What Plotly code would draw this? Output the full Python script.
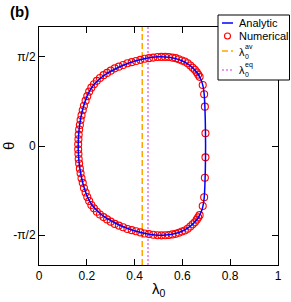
import plotly.graph_objects as go

# ---------------- data ----------------
analytic_lambda = [0.697, 0.696, 0.694, 0.691, 0.686, 0.678, 0.665, 0.648, 0.625, 0.600,
                   0.570, 0.530, 0.485, 0.440, 0.395, 0.355, 0.315, 0.280, 0.250, 0.225,
                   0.205, 0.190, 0.180, 0.173, 0.168, 0.165, 0.164,
                   0.165, 0.168, 0.173, 0.180, 0.190, 0.205, 0.225, 0.250, 0.280,
                   0.315, 0.355, 0.395, 0.440, 0.485, 0.530, 0.570, 0.600, 0.625,
                   0.648, 0.665, 0.678, 0.686, 0.691, 0.694, 0.696, 0.697]
analytic_theta = [0.00, 0.40, 0.70, 0.92, 1.06, 1.17, 1.27, 1.36, 1.44, 1.50,
                  1.545, 1.572, 1.572, 1.54, 1.49, 1.43, 1.35, 1.27, 1.17, 1.06,
                  0.92, 0.75, 0.60, 0.45, 0.30, 0.15, 0.00,
                  -0.15, -0.30, -0.45, -0.60, -0.75, -0.92, -1.06, -1.17, -1.27,
                  -1.35, -1.43, -1.49, -1.54, -1.572, -1.572, -1.545, -1.50, -1.44,
                  -1.36, -1.27, -1.17, -1.06, -0.92, -0.70, -0.40, 0.00]

numerical_lambda = [0.164, 0.165, 0.166, 0.168, 0.171, 0.174, 0.178, 0.183, 0.188, 0.195,
                    0.202, 0.210, 0.219, 0.230, 0.242, 0.255, 0.270, 0.285, 0.300, 0.317,
                    0.334, 0.352, 0.370, 0.388, 0.406, 0.424, 0.442, 0.460, 0.478, 0.496,
                    0.512, 0.528, 0.543, 0.558, 0.572, 0.585, 0.598, 0.610, 0.622, 0.633,
                    0.643, 0.652, 0.660, 0.666, 0.672, 0.685, 0.691, 0.694, 0.6965,
                    0.164, 0.165, 0.166, 0.168, 0.171, 0.174, 0.178, 0.183, 0.188, 0.195,
                    0.202, 0.210, 0.219, 0.230, 0.242, 0.255, 0.270, 0.285, 0.300, 0.317,
                    0.334, 0.352, 0.370, 0.388, 0.406, 0.424, 0.442, 0.460, 0.478, 0.496,
                    0.512, 0.528, 0.543, 0.558, 0.572, 0.585, 0.598, 0.610, 0.622, 0.633,
                    0.643, 0.652, 0.660, 0.666, 0.672, 0.685, 0.691, 0.694, 0.6965]
numerical_theta = [0.03, 0.12, 0.20, 0.29, 0.37, 0.46, 0.54, 0.63, 0.71, 0.80,
                   0.88, 0.96, 1.03, 1.09, 1.15, 1.20, 1.25, 1.29, 1.33, 1.37,
                   1.40, 1.43, 1.46, 1.48, 1.50, 1.52, 1.54, 1.55, 1.56, 1.57,
                   1.572, 1.572, 1.57, 1.56, 1.55, 1.53, 1.51, 1.49, 1.46, 1.42,
                   1.38, 1.345, 1.30, 1.26, 1.22, 1.076, 0.912, 0.694, 0.224,
                   -0.06, -0.14, -0.23, -0.31, -0.40, -0.48, -0.57, -0.65, -0.74, -0.82,
                   -0.90, -0.97, -1.04, -1.10, -1.16, -1.21, -1.255, -1.295, -1.335, -1.375,
                   -1.405, -1.435, -1.465, -1.485, -1.505, -1.525, -1.545, -1.555, -1.565, -1.575,
                   -1.577, -1.575, -1.57, -1.56, -1.55, -1.53, -1.51, -1.49, -1.46, -1.42,
                   -1.38, -1.345, -1.30, -1.26, -1.22, -1.06, -0.905, -0.56, -0.20]

lambda_av = 0.432
lambda_eq = 0.456

x_ticks = [0, 0.2, 0.4, 0.6, 0.8, 1.0]
x_ticklabels = ["0", "0.2", "0.4", "0.6", "0.8", "1"]
y_ticks = [-1.5708, 0.0, 1.5708]
y_ticklabels = ["-\u03c0/2", "0", "\u03c0/2"]

x_range = [0, 1]
y_range = [-2.1, 2.1]

# ---------------- figure ----------------
FONT = "Liberation Sans, Arial, Helvetica, sans-serif"
W, H = 291, 302
L, R, T, B = 39, 13, 27, 37

def px(x):
    return (x - L) / (W - L - R)

def py(y):
    return (H - B - y) / (H - T - B)

AV_COLOR = "#FFA500"
EQ_COLOR = "#F070F0"

fig = go.Figure()

fig.add_trace(go.Scatter(x=[lambda_av, lambda_av], y=y_range, mode="lines",
                         line=dict(color=AV_COLOR, width=1.5, dash="6px,3px"),
                         showlegend=False, hoverinfo="skip"))
fig.add_trace(go.Scatter(x=[lambda_eq, lambda_eq], y=y_range, mode="lines",
                         line=dict(color=EQ_COLOR, width=1.5, dash="2px,2px"),
                         showlegend=False, hoverinfo="skip"))
fig.add_trace(go.Scatter(x=numerical_lambda, y=numerical_theta, mode="markers",
                         marker=dict(symbol="circle-open", size=7, color="#FF0000",
                                     line=dict(width=1.1, color="#FF0000")),
                         showlegend=False))
fig.add_trace(go.Scatter(x=analytic_lambda, y=analytic_theta, mode="lines",
                         line=dict(color="#0000FF", width=1.5, shape="spline", smoothing=0.6),
                         showlegend=False))

axis_common = dict(showline=True, linecolor="black", linewidth=1, mirror="ticks",
                   ticks="inside", ticklen=6, tickwidth=1, tickcolor="black",
                   showgrid=False, zeroline=False, automargin=False,
                   tickfont=dict(family=FONT, size=12, color="black"))

fig.update_xaxes(range=x_range, tickvals=x_ticks, ticktext=x_ticklabels, **axis_common)
fig.update_yaxes(range=y_range, tickvals=y_ticks, ticktext=y_ticklabels, **axis_common)

shapes = []
annotations = []

# legend box (manual)
shapes.append(dict(type="rect", xref="paper", yref="paper",
                   x0=px(218), x1=px(289.5), y0=py(80), y1=py(15),
                   line=dict(color="black", width=1), fillcolor="white", layer="above"))
# legend samples
shapes.append(dict(type="line", xref="paper", yref="paper", x0=px(222), x1=px(233),
                   y0=py(23), y1=py(23), line=dict(color="#0000FF", width=1.5), layer="above"))
shapes.append(dict(type="circle", xref="paper", yref="paper", x0=px(224.5), x1=px(230.5),
                   y0=py(39), y1=py(33), line=dict(color="#FF0000", width=1.1), layer="above"))
shapes.append(dict(type="line", xref="paper", yref="paper", x0=px(222), x1=px(233),
                   y0=py(51), y1=py(51), line=dict(color=AV_COLOR, width=1.5, dash="6px,3px"),
                   layer="above"))
shapes.append(dict(type="line", xref="paper", yref="paper", x0=px(222), x1=px(233),
                   y0=py(70), y1=py(70), line=dict(color=EQ_COLOR, width=1.5, dash="2px,2px"),
                   layer="above"))

lf = dict(family=FONT, size=11, color="black")
sf = dict(family=FONT, size=7, color="black")
def txt(x, y, s, font, anchor="left"):
    annotations.append(dict(x=px(x), y=py(y), xref="paper", yref="paper", text=s,
                            showarrow=False, xanchor=anchor, yanchor="middle", font=font))

txt(237, 23, "Analytic", lf)
txt(237, 36, "Numerical", lf)
txt(237, 52, "\u03bb", lf)
txt(243, 46, "av", sf)
txt(243, 56, "0", sf)
txt(237, 70, "\u03bb", lf)
txt(243, 64.5, "eq", sf)
txt(243, 74.5, "0", sf)

# axis titles
annotations.append(dict(x=px(8), y=py(146), xref="paper", yref="paper", text="\u03b8",
                        showarrow=False, xanchor="center", yanchor="middle", textangle=-90,
                        font=dict(family=FONT, size=15, color="black")))
annotations.append(dict(x=px(158.5), y=py(289), xref="paper", yref="paper",
                        text="\u03bb<sub>0</sub>",
                        showarrow=False, xanchor="center", yanchor="middle",
                        font=dict(family=FONT, size=15, color="black")))

annotations.append(dict(x=px(8), y=py(11), xref="paper", yref="paper", text="<b>(b)</b>",
                        showarrow=False, xanchor="left", yanchor="middle",
                        font=dict(family=FONT, size=15, color="black")))

fig.update_layout(width=W, height=H, margin=dict(l=L, r=R, t=T, b=B, autoexpand=False),
                  plot_bgcolor="white", paper_bgcolor="white",
                  shapes=shapes, annotations=annotations, showlegend=False)

fig.write_html("out.html", config={"displayModeBar": False},
               post_script="document.body.style.margin='0';document.body.style.overflow='hidden';")
